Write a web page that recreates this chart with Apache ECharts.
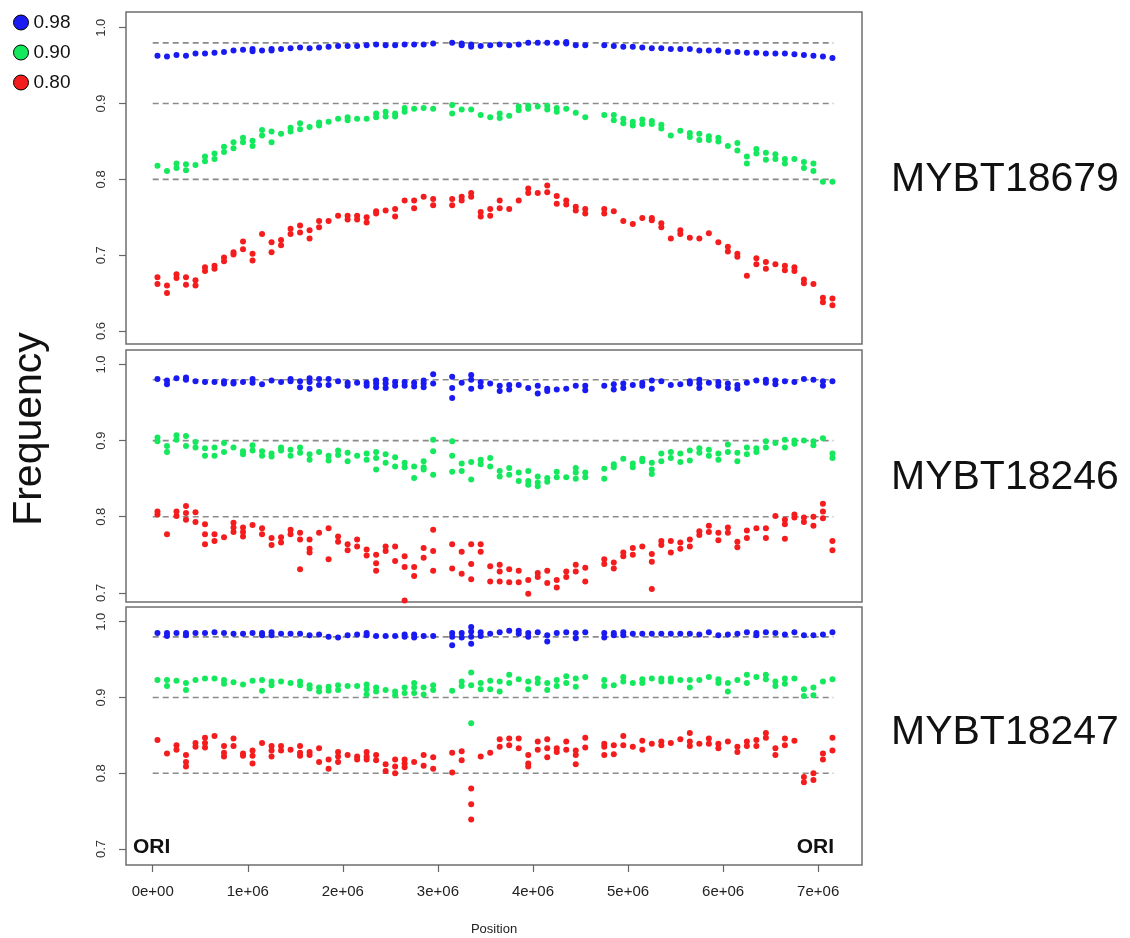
<!DOCTYPE html>
<html>
<head>
<meta charset="utf-8">
<title>Frequency by position</title>
<script src="https://cdn.jsdelivr.net/npm/echarts@6/dist/echarts.min.js"></script>
<style>
  html, body { margin: 0; padding: 0; background: #fff; }
  #chart { width: 1130px; height: 938px; }
</style>
</head>
<body>
<div id="chart"></div>
<script>
// positions of the windows along the chromosome (bp)
var positions = [50000, 150000, 250000, 350000, 450000, 550000, 650000, 750000, 850000, 950000,
  1050000, 1150000, 1250000, 1350000, 1450000, 1550000, 1650000, 1750000, 1850000, 1950000,
  2050000, 2150000, 2250000, 2350000, 2450000, 2550000, 2650000, 2750000, 2850000, 2950000,
  3150000, 3250000, 3350000, 3450000, 3550000, 3650000, 3750000, 3850000, 3950000, 4050000,
  4150000, 4250000, 4350000, 4450000, 4550000,
  4750000, 4850000, 4950000, 5050000, 5150000, 5250000, 5350000, 5450000, 5550000, 5650000,
  5750000, 5850000, 5950000, 6050000, 6150000, 6250000, 6350000, 6450000, 6550000, 6650000,
  6750000, 6850000, 6950000, 7050000, 7150000]

var thresholds = ['0.98', '0.90', '0.80']
var refLevels = [0.98, 0.90, 0.80]
var refLineEnd = 7160000
var strains = ['MYBT18679', 'MYBT18246', 'MYBT18247']

var xTickValues = [0, 1000000, 2000000, 3000000, 4000000, 5000000, 6000000, 7000000]
var xTickLabels = ['0e+00', '1e+06', '2e+06', '3e+06', '4e+06', '5e+06', '6e+06', '7e+06']
var p1YTicks = [0.6, 0.7, 0.8, 0.9, 1.0]
var p2YTicks = [0.7, 0.8, 0.9, 1.0]
var p3YTicks = [0.7, 0.8, 0.9, 1.0]

// MYBT18679
var p1Blue = [[.963], [.962], [.964], [.963], [.966], [.966], [.967], [.968], [.970], [.971],
  [.972, .969], [.970], [.972, .970], [.972], [.973], [.974], [.973], [.974], [.975], [.976],
  [.976], [.976], [.977], [.978], [.977], [.977], [.978], [.978], [.978], [.979],
  [.980], [.979, .977], [.978, .975], [.976], [.977], [.978], [.977], [.978], [.980], [.980],
  [.980], [.980], [.981, .979], [.977], [.977],
  [.977], [.976], [.975], [.975], [.974], [.973], [.973], [.972], [.972], [.972],
  [.970], [.970], [.970], [.968], [.968], [.967], [.967], [.966], [.966], [.966],
  [.965], [.964], [.963], [.962], [.960]]
var p1Green = [[.818], [.811], [.821, .815], [.820, .812], [.819], [.830, .824], [.834, .827], [.843, .836], [.849, .841], [.855, .849],
  [.851, .844], [.865, .858], [.863, .849], [.860], [.868, .863], [.874, .866], [.869], [.875, .871], [.876], [.880],
  [.882, .878], [.880], [.880], [.887, .882], [.889, .883], [.887, .883], [.894, .889], [.893], [.894], [.893],
  [.898, .887], [.892], [.892], [.885], [.882], [.887, .881], [.884], [.896, .891], [.897, .893], [.896],
  [.897, .892], [.894, .889], [.893], [.888], [.882],
  [.885], [.885, .878], [.880, .874], [.876, .871], [.879, .873], [.877, .873], [.872, .867], [.858], [.864], [.861, .856],
  [.860, .852], [.857, .852], [.855, .850], [.844], [.848, .838], [.830, .821], [.840, .834], [.835, .826], [.833, .827], [.827, .821],
  [.827], [.823, .815], [.821, .811], [.797], [.797]]
var p1Red = [[.671, .662], [.660, .650], [.675, .670], [.671, .661], [.667, .660], [.684, .679], [.686, .682], [.697, .692], [.704, .701], [.718, .708],
  [.702, .693], [.728], [.717, .704], [.720, .713], [.735, .728], [.739, .730], [.733, .722], [.745, .737], [.745], [.752],
  [.752, .747], [.752, .747], [.750, .743], [.758, .755], [.759], [.761, .751], [.772], [.772, .762], [.777], [.774, .766],
  [.774, .766], [.777, .772], [.782, .777], [.757, .751], [.761, .752], [.772, .762], [.761], [.772], [.788, .782], [.782],
  [.792, .783], [.778, .768], [.772, .767], [.764, .759], [.761, .755],
  [.761, .755], [.758], [.745], [.741], [.749], [.749, .746], [.742, .737], [.722], [.733, .728], [.723],
  [.722], [.729], [.717], [.711, .705], [.702, .698], [.673], [.696, .688], [.691, .682], [.688], [.686, .680],
  [.684, .679], [.668, .663], [.662], [.644, .638], [.643, .634]]

// MYBT18246
var p2Blue = [[.981], [.979, .974], [.982], [.983, .980], [.978], [.977], [.977], [.978, .975], [.977, .975], [.977],
  [.981, .976], [.974], [.979], [.977], [.981, .978], [.978, .970], [.982, .977, .968], [.981, .973], [.981, .973], [.978],
  [.976, .972], [.976], [.976, .972], [.979, .975, .970], [.980, .975, .969], [.977, .972], [.977, .972], [.976, .971], [.979, .975, .970], [.987, .975],
  [.984, .969, .956], [.976], [.986, .980, .968], [.977, .971], [.975], [.972, .965], [.973, .967], [.973], [.969], [.972, .962],
  [.968, .965], [.967], [.968], [.972], [.972, .966],
  [.972], [.974, .967], [.975, .969], [.973], [.976, .972], [.979, .968], [.978], [.973], [.974], [.978, .975],
  [.980, .975, .969], [.976], [.977, .972], [.975, .969], [.973, .968], [.976], [.979], [.980, .976], [.979, .974], [.978],
  [.977], [.981], [.980], [.978, .972], [.978]]
var p2Green = [[.904, .899], [.893, .885], [.907, .901], [.906, .893], [.898, .891], [.890, .880], [.891, .880], [.897, .885], [.891], [.886, .882],
  [.894, .887], [.886, .880], [.883, .879], [.891, .887], [.888, .880], [.891, .884], [.882, .875], [.885], [.880, .874], [.887, .881],
  [.884, .873], [.880], [.883, .875], [.885, .877, .862], [.882, .871], [.878, .866], [.871, .865], [.866, .851], [.873, .865, .862], [.901, .886, .855],
  [.899, .880, .859], [.870, .860], [.872, .849], [.875, .869], [.877, .866], [.860, .853], [.864, .855], [.858, .847], [.860, .847, .842], [.853, .845, .840],
  [.851, .846], [.859, .852], [.852], [.864, .858, .850], [.858, .852],
  [.863, .850], [.869, .865], [.876], [.870, .865], [.876, .873], [.871, .862, .856], [.883, .873], [.885, .877], [.883, .872], [.887, .874],
  [.890, .884], [.888, .880], [.883, .875], [.895, .885], [.884, .873], [.891, .882], [.890, .885], [.899, .891], [.897], [.901, .891],
  [.900, .896], [.900], [.899, .894], [.903], [.883, .877]]
var p2Red = [[.807, .803], [.777], [.807, .801], [.814, .805, .796], [.806, .793], [.790, .777, .764], [.777, .768], [.773], [.792, .786, .780], [.786, .780, .774],
  [.789], [.785, .777], [.772, .763], [.773, .766], [.783, .777], [.779, .770, .731], [.770, .758, .753], [.779], [.785, .744], [.774, .767],
  [.764, .756], [.770, .761], [.757, .749], [.750, .739, .729], [.761, .755], [.761, .742], [.748, .734, .690], [.734, .722], [.759, .746], [.783, .755, .729],
  [.764, .732], [.754, .725], [.764, .738, .718], [.764, .754], [.735, .715], [.737, .728, .715], [.731, .714], [.729, .714], [.717, .699], [.726, .721],
  [.729, .713], [.717, .707], [.728, .721], [.737, .728], [.733, .715],
  [.744, .738], [.740, .732], [.753, .748], [.759, .750], [.761], [.751, .741, .705], [.768, .763], [.768, .753], [.766, .758], [.770, .761],
  [.781, .776], [.788, .780], [.779, .769], [.786, .779], [.767, .760], [.782, .772], [.785], [.785, .772], [.801], [.796, .790, .771],
  [.803, .799], [.799, .793], [.800, .788], [.817, .807, .798], [.768, .756]]

// MYBT18247
var p3Blue = [[.985], [.985, .981], [.985], [.985, .982], [.985], [.985], [.986], [.985], [.984], [.984],
  [.985], [.985, .982], [.986, .982], [.984], [.984], [.984], [.982], [.983], [.980], [.979],
  [.982], [.983], [.985, .982], [.981], [.981], [.981], [.983, .980], [.983, .979], [.981], [.981],
  [.985, .980, .969], [.985, .979], [.993, .987, .980, .971], [.986, .981], [.984], [.986], [.988], [.988, .984], [.985, .980], [.986],
  [.982, .974], [.985], [.986], [.985, .978], [.986],
  [.985, .979], [.985, .982], [.986, .982], [.984], [.984], [.984], [.984], [.984], [.984], [.984],
  [.983], [.986], [.982], [.983], [.984], [.986], [.985, .982], [.986], [.985], [.983],
  [.986], [.982], [.982], [.983], [.986]]
var p3Green = [[.923], [.923, .915], [.922], [.919, .910], [.923], [.925], [.925], [.923, .918], [.920], [.917],
  [.922], [.923, .909], [.921, .916], [.921], [.919], [.921, .916], [.916, .912], [.913, .908], [.914, .909], [.916, .910],
  [.915], [.915], [.917, .911, .904], [.913, .908], [.910], [.908, .903], [.913, .906], [.919, .913, .906], [.913, .904], [.916, .910],
  [.909], [.921, .915], [.933, .916, .866], [.919, .911], [.922, .911], [.921, .908], [.930, .919], [.924], [.921, .911], [.925, .919],
  [.919, .910], [.923, .915], [.928, .919], [.925, .914], [.927],
  [.923, .915], [.916], [.927, .921], [.919], [.924, .919], [.925], [.925, .921], [.925, .921], [.923], [.923, .913],
  [.923], [.927], [.924, .919], [.919, .908], [.923], [.930, .919], [.927], [.930, .924], [.921, .915], [.925, .918],
  [.925], [.911, .902], [.913, .903], [.921], [.924]]
var p3Red = [[.844], [.826], [.837, .831], [.824, .815, .809], [.840, .835], [.847, .840, .834], [.849], [.836, .827, .822], [.846, .836], [.826, .823],
  [.830, .823, .813], [.840], [.836, .830, .822], [.836, .830], [.831], [.836, .827, .823], [.828, .824], [.833, .815], [.818, .806], [.828, .822, .815],
  [.824], [.822, .818], [.828, .822, .818], [.824, .817], [.812, .803], [.818, .809, .800], [.818, .813, .808], [.815], [.824, .810], [.821, .806],
  [.827, .801], [.829, .817], [.780, .759, .739], [.822], [.827], [.845, .835], [.846, .837], [.846, .833], [.824, .813, .809], [.842, .831],
  [.845, .833, .821], [.833, .828], [.842, .831], [.830, .824, .812], [.847, .834],
  [.839, .835, .824], [.837, .825], [.849, .837], [.835], [.843, .831], [.839], [.842, .837], [.840], [.845], [.853, .842, .836],
  [.839], [.846, .839], [.839, .833], [.842], [.835, .828], [.842, .836], [.844, .836], [.853, .847], [.833, .824], [.846, .837],
  [.843], [.795, .788], [.800, .791], [.826, .818], [.847, .830]]

var colors = ['#1a1af2', '#14e85c', '#f41c1c']
var fontFamily = '"Liberation Sans", Arial, sans-serif'

var panels = [
  { sets: [p1Blue, p1Green, p1Red], ticks: p1YTicks, top: 12, height: 332, min: 0.5829, max: 1.0207 },
  { sets: [p2Blue, p2Green, p2Red], ticks: p2YTicks, top: 350, height: 252, min: 0.688, max: 1.019 },
  { sets: [p3Blue, p3Green, p3Red], ticks: p3YTicks, top: 607, height: 258, min: 0.6789, max: 1.0194 }
]

function toPoints (values) {
  var pts = []
  values.forEach(function (reps, i) {
    reps.forEach(function (v) {
      pts.push([positions[i], v])
    })
  })
  return pts
}

var grids = []
var xAxes = []
var yAxes = []
var series = []

panels.forEach(function (p, i) {
  var last = i === panels.length - 1
  grids.push({
    left: 126,
    right: 268,
    top: p.top,
    height: p.height,
    show: true,
    borderColor: '#6f6f6f',
    borderWidth: 1.5,
    backgroundColor: 'transparent',
    outerBoundsMode: 'none'
  })
  xAxes.push({
    gridIndex: i,
    type: 'value',
    min: -281000,
    max: 7461000,
    show: last,
    axisLine: { show: false, onZero: false },
    splitLine: { show: false },
    axisTick: {
      show: true,
      customValues: xTickValues,
      length: 7,
      lineStyle: { color: '#666', width: 1.2 }
    },
    axisLabel: {
      customValues: xTickValues,
      margin: 19,
      fontSize: 15,
      fontFamily: fontFamily,
      color: '#222',
      formatter: function (v) {
        var idx = xTickValues.indexOf(v)
        return idx >= 0 ? xTickLabels[idx] : ''
      }
    },
    name: last ? 'Position' : '',
    nameLocation: 'middle',
    nameGap: 58,
    nameTextStyle: { fontSize: 13, fontFamily: fontFamily, color: '#222' }
  })
  yAxes.push({
    gridIndex: i,
    type: 'value',
    min: p.min,
    max: p.max,
    axisLine: { show: false, onZero: false },
    splitLine: { show: false },
    axisTick: {
      show: true,
      customValues: p.ticks,
      length: 7,
      lineStyle: { color: '#666', width: 1.2 }
    },
    axisLabel: {
      customValues: p.ticks,
      rotate: 90,
      margin: 18,
      fontSize: 13,
      fontFamily: fontFamily,
      color: '#333',
      formatter: function (v) { return v.toFixed(1) }
    }
  })
  refLevels.forEach(function (lvl) {
    series.push({
      type: 'line',
      xAxisIndex: i,
      yAxisIndex: i,
      data: [[0, lvl], [refLineEnd, lvl]],
      symbol: 'none',
      silent: true,
      z: 1,
      lineStyle: { color: '#8a8a8a', width: 1.6, type: [6, 4] }
    })
  })
  p.sets.forEach(function (vals, j) {
    series.push({
      name: thresholds[j],
      type: 'scatter',
      xAxisIndex: i,
      yAxisIndex: i,
      data: toPoints(vals),
      symbol: 'circle',
      symbolSize: 6,
      z: 3,
      itemStyle: { color: colors[j], opacity: 1 }
    })
  })
})

var graphics = [
  {
    type: 'text',
    x: 30,
    y: 429,
    rotation: Math.PI / 2,
    style: { text: 'Frequency', font: '41px ' + fontFamily, fill: '#111', textAlign: 'center', textVerticalAlign: 'middle' }
  },
  {
    type: 'text',
    x: 133,
    y: 847,
    style: { text: 'ORI', font: 'bold 21px ' + fontFamily, fill: '#111', textAlign: 'left', textVerticalAlign: 'middle' }
  },
  {
    type: 'text',
    x: 834,
    y: 847,
    style: { text: 'ORI', font: 'bold 21px ' + fontFamily, fill: '#111', textAlign: 'right', textVerticalAlign: 'middle' }
  }
]
var labelY = [180, 478, 733]
strains.forEach(function (s, i) {
  graphics.push({
    type: 'text',
    x: 891,
    y: labelY[i],
    style: { text: s, font: '41px ' + fontFamily, fill: '#111', textAlign: 'left', textVerticalAlign: 'middle' }
  })
})

var chart = echarts.init(document.getElementById('chart'), null, { renderer: 'canvas' })
chart.setOption({
  animation: false,
  backgroundColor: '#fff',
  legend: {
    data: thresholds,
    orient: 'vertical',
    left: 8,
    top: 8,
    itemWidth: 15,
    itemHeight: 15,
    itemGap: 11,
    icon: 'circle',
    itemStyle: { borderColor: '#000', borderWidth: 1 },
    textStyle: { fontSize: 19, fontFamily: fontFamily, color: '#111', padding: [0, 0, 0, 0] },
    selectedMode: false
  },
  grid: grids,
  xAxis: xAxes,
  yAxis: yAxes,
  series: series,
  graphic: graphics
})
</script>
</body>
</html>
